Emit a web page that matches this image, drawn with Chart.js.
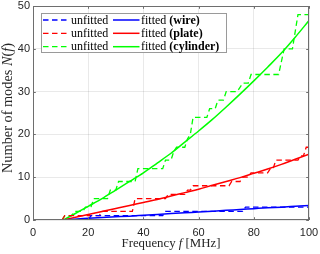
<!DOCTYPE html>
<html><head><meta charset="utf-8">
<script src="https://cdn.jsdelivr.net/npm/chart.js@4/dist/chart.umd.min.js"></script>
<style>html,body{margin:0;padding:0;background:#fff}#wrap{width:320px;height:254px}</style>
</head><body><div id="wrap"><canvas id="c" width="320" height="254"></canvas></div>
<script>
// Fitted curves
const fitFreq = [11,15,20,25,30,35,40,45,50,55,60,65,70,75,80,85,90,95,100];
const wireFit = [0,0.2,0.4,0.6,0.75,0.9,1.1,1.3,1.5,1.7,1.85,2.05,2.25,2.45,2.65,2.85,3.0,3.2,3.4];
const plateFit = [0,0.6,1.3,2.0,2.7,3.4,4.1,4.8,5.6,6.4,7.2,8.1,9.0,9.9,10.9,11.9,13.0,14.2,15.4];
const cylFit = [0,1.4,3.2,5.0,7.0,9.0,11.0,13.3,15.6,18.2,20.8,23.5,26.4,29.4,32.5,35.7,39.0,42.7,46.6];
// Unfitted (counted) staircases
const wireF = [10.5,20,21,47,48,76,77,100];
const wireN = [0,0,1,1,2,2,3,3];
const plateF = [10.5,11.5,24,25,36,37,48,49,55,56,57,58,71,72,75,76,78,79,85,86,87,88,96,97,98,99,100];
const plateN = [0,1,1,2,2,5,5,6,6,7,7,8,8,9,9,10,10,11,11,12,12,14,14,15,15,17,17];
const cylF = [10.5,11.5,14,15,18,19,21,22,27,28,30,31,37,38,47,48,50,51,52,55,56,57,58,63,64,66,67,69,70,74,75,76,78,79,89,90,91,94,95,96,100];
const cylN = [0,1,1,2,2,3,3,5,5,7,7,9,9,12,12,14,14,16,17,17,19,20,24,24,26,26,28,28,30,30,31,32,32,34,34,37,40,40,44,48,48];
// Labels
const xTicks = [0,20,40,60,80,100];
const yTicks = [0,10,20,30,40,50];
const seriesNames = ['wire','plate','cylinder'];
const seriesColors = ['#0000ff','#ff0000','#00ff00'];

const pts = (xs, ys) => xs.map((x,i)=>({x, y: ys[i]}));
const DASH = [5.5,3.5];
const unf = [pts(wireF,wireN), pts(plateF,plateN), pts(cylF,cylN)];
const fit = [pts(fitFreq,wireFit), pts(fitFreq,plateFit), pts(fitFreq,cylFit)];
const datasets = [];
for (let i=0;i<3;i++){
  datasets.push({label:'unfitted', data:unf[i], borderColor:seriesColors[i], borderWidth:1.3, borderDash:DASH, pointRadius:0, tension:0, fill:false});
  datasets.push({label:'fitted ('+seriesNames[i]+')', data:fit[i], borderColor:seriesColors[i], borderWidth:1.5, pointRadius:0, tension:0.4, cubicInterpolationMode:'monotone', fill:false});
}

const SERIF = '"Liberation Serif", "Times New Roman", serif';
const frame = {
  id:'frame',
  afterDraw(chart){
    const {ctx, chartArea:a, scales:{x,y}} = chart;
    ctx.save();
    ctx.strokeStyle = '#6e6e6e'; ctx.lineWidth = 1;
    ctx.strokeRect(Math.round(a.left)+0.5, Math.round(a.top)+0.5, Math.round(a.right-a.left)-1, Math.round(a.bottom-a.top)-1);
    // inward ticks
    const tl = 2.8;
    ctx.beginPath();
    xTicks.forEach(v=>{const px=Math.round(x.getPixelForValue(v))+0.5; ctx.moveTo(px,a.bottom); ctx.lineTo(px,a.bottom-tl); ctx.moveTo(px,a.top); ctx.lineTo(px,a.top+tl);});
    yTicks.forEach(v=>{const py=Math.round(y.getPixelForValue(v))+0.5; ctx.moveTo(a.left,py); ctx.lineTo(a.left+tl,py); ctx.moveTo(a.right,py); ctx.lineTo(a.right-tl,py);});
    ctx.stroke();
    // axis titles with italic parts
    ctx.fillStyle = '#262626'; ctx.textBaseline = 'middle';
    const drawParts = (parts, cx, cy, target) => {
      let w = 0;
      parts.forEach(p=>{ctx.font=p[1]; w+=ctx.measureText(p[0]).width;});
      const sc = target ? target / w : 1;
      ctx.save(); ctx.translate(cx, cy); ctx.scale(sc, 1);
      let px = -w/2;
      parts.forEach(p=>{ctx.font=p[1]; ctx.textAlign='left'; ctx.fillText(p[0], px, 0); px+=ctx.measureText(p[0]).width;});
      ctx.restore();
    };
    const n = '13px '+SERIF, it = 'italic 13px '+SERIF;
    drawParts([['Frequency ',n],['f',it],[' [MHz]',n]], (a.left+a.right)/2, 244, 99);
    ctx.save(); ctx.translate(8, 108); ctx.rotate(-Math.PI/2);
    const n2 = '14px '+SERIF, it2 = 'italic 14px '+SERIF;
    drawParts([['Number of modes ',n2],['N',it2],['(',n2],['f',it2],[')',n2]], 0, 0, 130);
    ctx.restore();
    // legend
    const L=41, T=13, R=227, B=53;
    ctx.fillStyle='#fff'; ctx.fillRect(L,T,R-L,B-T);
    ctx.strokeStyle='#9a9a9a'; ctx.lineWidth=1; ctx.strokeRect(L+0.5,T+0.5,R-L-1,B-T-1);
    const rows=[20,33.3,46.7];
    for(let i=0;i<3;i++){
      const yy=rows[i];
      ctx.strokeStyle=seriesColors[i];
      ctx.setLineDash(DASH); ctx.lineWidth=1.3;
      ctx.beginPath(); ctx.moveTo(43,yy); ctx.lineTo(69.5,yy); ctx.stroke();
      ctx.setLineDash([]); ctx.lineWidth=1.5;
      ctx.beginPath(); ctx.moveTo(113,yy); ctx.lineTo(139.5,yy); ctx.stroke();
      ctx.fillStyle='#000'; ctx.textAlign='left'; ctx.textBaseline='middle';
      ctx.font='12px '+SERIF; ctx.fillText('unfitted',71,yy+0.5);
      ctx.fillText('fitted ',141,yy+0.5);
      const w=ctx.measureText('fitted ').width;
      ctx.font='bold 12px '+SERIF; ctx.fillText('('+seriesNames[i]+')',141+w,yy+0.5);
    }
    ctx.restore();
  }
};

new Chart(document.getElementById('c'), {
  type:'line',
  data:{datasets},
  options:{
    responsive:false, animation:false, maintainAspectRatio:false,
    layout:{padding:{left:0,right:11,top:6,bottom:0}},
    plugins:{legend:{display:false}, tooltip:{enabled:false}},
    scales:{
      x:{type:'linear', min:0, max:100,
        afterBuildTicks:(s)=>{s.ticks = xTicks.map(v=>({value:v}));},
        afterFit:(s)=>{s.height=34; s.paddingLeft=0; s.paddingRight=0;},
        ticks:{padding:6, color:'#262626', font:{family:'"Liberation Sans", Arial, sans-serif', size:11}, maxRotation:0},
        grid:{color:'rgba(38,38,38,0.1)', drawTicks:false, lineWidth:1},
        border:{display:false}},
      y:{type:'linear', min:0, max:50,
        afterBuildTicks:(s)=>{s.ticks = yTicks.map(v=>({value:v}));},
        afterFit:(s)=>{s.width=33; s.paddingTop=0; s.paddingBottom=0;},
        ticks:{padding:3, color:'#262626', font:{family:'"Liberation Sans", Arial, sans-serif', size:11}},
        grid:{color:'rgba(38,38,38,0.1)', drawTicks:false, lineWidth:1},
        border:{display:false}}
    }
  },
  plugins:[frame]
});
</script></body></html>
